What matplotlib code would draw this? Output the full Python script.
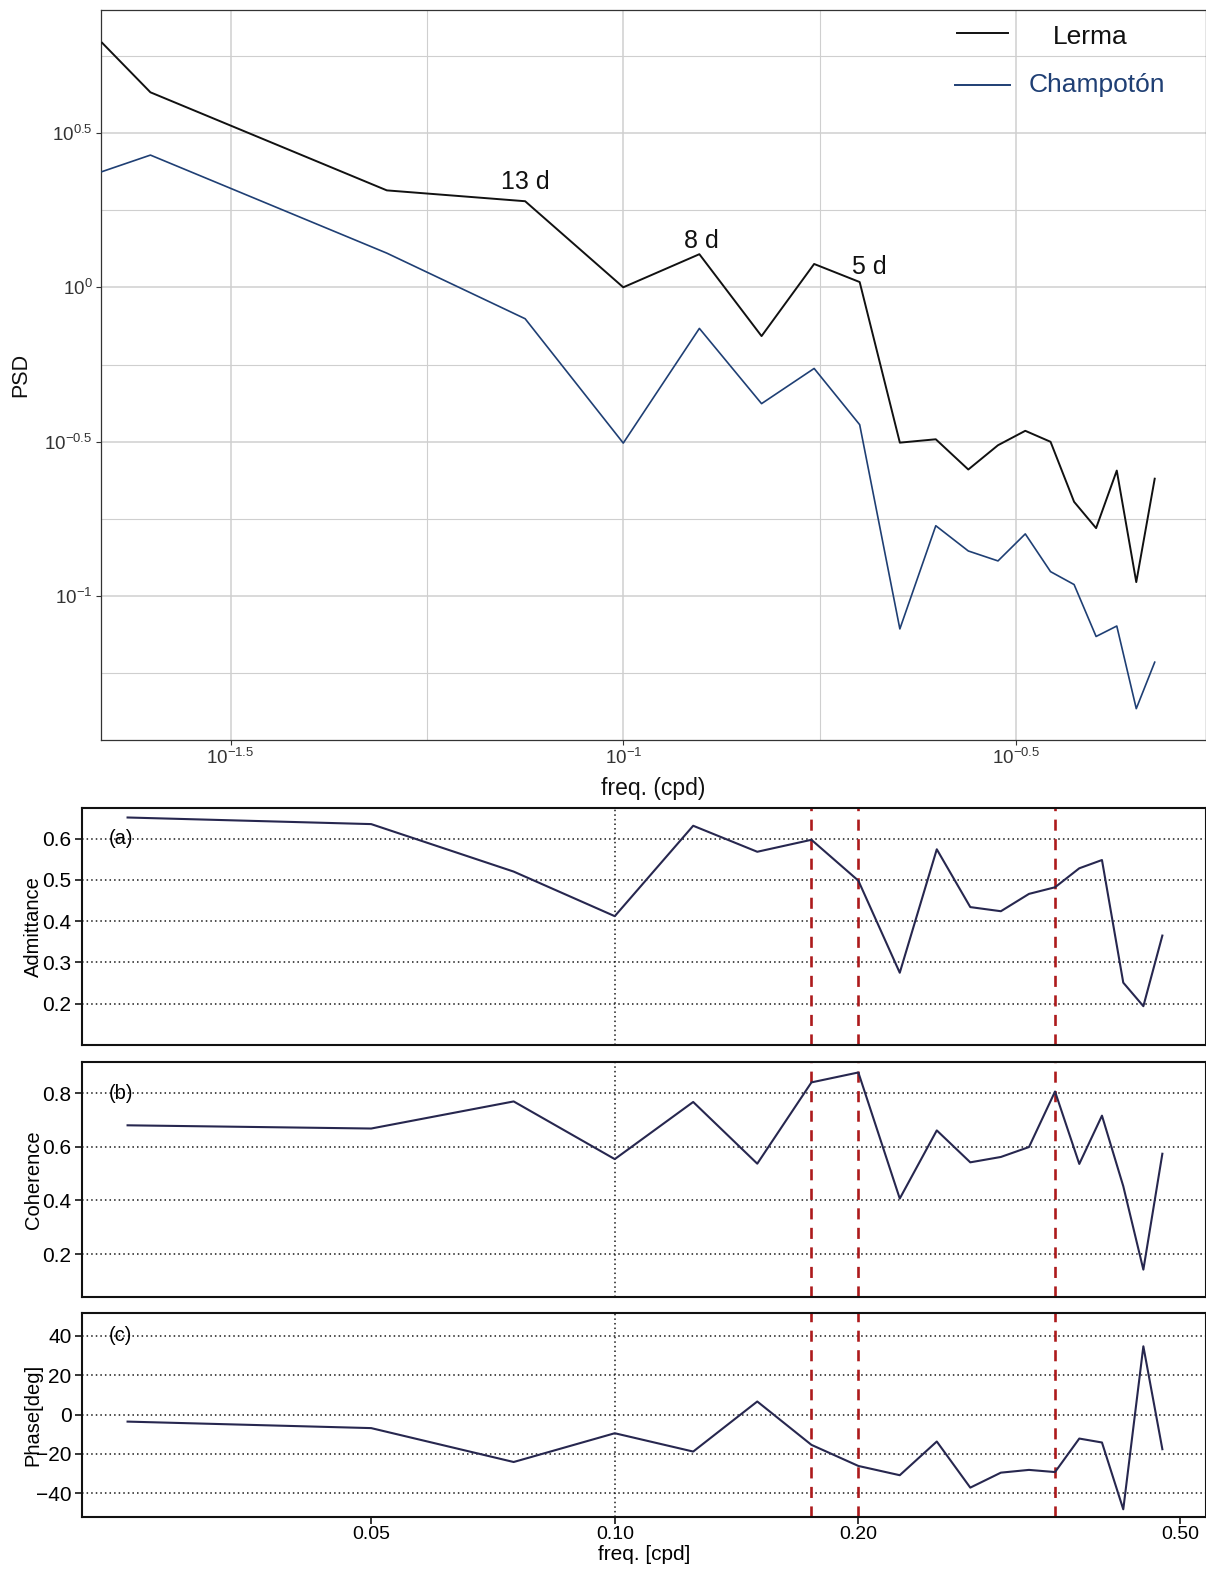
import numpy as np
import matplotlib
matplotlib.use("Agg")
import matplotlib.pyplot as plt
from matplotlib.ticker import FixedLocator, FixedFormatter, NullLocator, NullFormatter
from matplotlib.lines import Line2D

plt.rcParams['font.family'] = ['Liberation Sans', 'DejaVu Sans']
plt.rcParams['mathtext.default'] = 'regular'

# ---- power spectra (cpd, PSD) ----
psd_freq = [0.0217, 0.025, 0.05, 0.075, 0.1, 0.125, 0.15, 0.175, 0.2, 0.225,
            0.25, 0.275, 0.3, 0.325, 0.35, 0.375, 0.4, 0.425, 0.45, 0.475]
psd_lerma = [6.19, 4.28, 2.06, 1.90, 1.00, 1.28, 0.695, 1.19, 1.04, 0.314,
             0.322, 0.257, 0.308, 0.343, 0.316, 0.202, 0.166, 0.255, 0.111, 0.240]
psd_champoton = [2.37, 2.68, 1.29, 0.791, 0.313, 0.736, 0.420, 0.546, 0.359, 0.0783,
                 0.169, 0.140, 0.130, 0.159, 0.120, 0.109, 0.0740, 0.0800, 0.0432, 0.0611]

peak_freq = [0.075, 0.125, 0.2]
peak_labels = ['13 d', '8 d', '5 d']

# ---- cross-spectral estimates ----
cs_freq = [0.025, 0.05, 0.075, 0.1, 0.125, 0.15, 0.175, 0.2, 0.225, 0.25,
           0.275, 0.3, 0.325, 0.35, 0.375, 0.4, 0.425, 0.45, 0.475]
admittance = [0.651, 0.635, 0.520, 0.412, 0.631, 0.568, 0.597, 0.498, 0.275, 0.574,
              0.434, 0.424, 0.466, 0.482, 0.528, 0.548, 0.251, 0.194, 0.365]
coherence = [0.680, 0.668, 0.769, 0.554, 0.767, 0.537, 0.840, 0.877, 0.407, 0.661,
             0.542, 0.562, 0.599, 0.806, 0.536, 0.716, 0.453, 0.142, 0.574]
phase = [-3.6, -6.9, -24.1, -9.5, -18.8, 6.6, -15.4, -26.1, -30.8, -13.7,
         -37.1, -29.5, -28.1, -29.2, -12.2, -14.2, -48.1, 34.6, -17.6]

marked_freq = [0.175, 0.2, 0.35]

W, H = 1206, 1570
fig = plt.figure(figsize=(W / 100, H / 100), dpi=100)


def frac(x0, y0, x1, y1):
    return [x0 / W, 1 - y1 / H, (x1 - x0) / W, (y1 - y0) / H]


# ================= PSD panel =================
ax = fig.add_axes(frac(101, 10, 1206, 740))
ax.set_xscale('log')
ax.set_yscale('log')
ax.set_xlim(10 ** -1.665, 10 ** -0.258)
ax.set_ylim(10 ** -1.466, 10 ** 0.898)

grid_c = '#cfcfcf'
xmaj = [-1.5, -1.0, -0.5]
xmin = [-1.25, -0.75]
ymaj = [-1.0, -0.5, 0.0, 0.5]
ymin = [-1.25, -0.75, -0.25, 0.25, 0.75]
for v in xmaj:
    ax.axvline(10 ** v, color=grid_c, lw=1.1, zorder=0)
for v in xmin:
    ax.axvline(10 ** v, color=grid_c, lw=0.8, zorder=0)
for v in ymaj:
    ax.axhline(10 ** v, color=grid_c, lw=1.1, zorder=0)
for v in ymin:
    ax.axhline(10 ** v, color=grid_c, lw=0.8, zorder=0)


def pow_label(v):
    s = ('%g' % v).replace('-', '\u2212')
    return r'$10^{%s}$' % s


ax.xaxis.set_major_locator(FixedLocator([10 ** v for v in xmaj]))
ax.xaxis.set_major_formatter(FixedFormatter([pow_label(v) for v in xmaj]))
ax.yaxis.set_major_locator(FixedLocator([10 ** v for v in ymaj]))
ax.yaxis.set_major_formatter(FixedFormatter([pow_label(v) for v in ymaj]))
ax.xaxis.set_minor_locator(NullLocator())
ax.yaxis.set_minor_locator(NullLocator())
ax.tick_params(axis='both', which='major', length=3.5, width=0.8, color='#333333',
               labelsize=13.5, labelcolor='#333333', pad=2.5)
for sp in ax.spines.values():
    sp.set_color('#333333')
    sp.set_linewidth(0.9)

c_lerma = '#111111'
c_champ = '#1f3f74'
ax.plot(psd_freq, psd_lerma, color=c_lerma, lw=1.4, zorder=3)
ax.plot(psd_freq, psd_champoton, color=c_champ, lw=1.2, zorder=3)

offsets = [(0, 19), (2, 13), (10, 15)]
for f, lab, off in zip(peak_freq, peak_labels, offsets):
    yv = psd_lerma[psd_freq.index(f)]
    ax.annotate(lab, xy=(f, yv), xytext=off, textcoords='offset pixels',
                ha='center', va='center', fontsize=18, color='#111111')

ax.set_xlabel('freq. (cpd)', fontsize=16.5, color='#111111')
ax.xaxis.set_label_coords(0.5, -0.051)
ax.set_ylabel('PSD', fontsize=15.5, color='#111111')
ax.yaxis.set_label_coords(-0.063, 0.5)

# legend keys drawn in axes coordinates
ax.add_line(Line2D([0.7747, 0.8208], [0.9685, 0.9685], transform=ax.transAxes,
                   color=c_lerma, lw=1.4))
ax.add_line(Line2D([0.7729, 0.8226], [0.8973, 0.8973], transform=ax.transAxes,
                   color=c_champ, lw=1.4))
ax.text(0.895, 0.963, 'Lerma', transform=ax.transAxes, ha='center', va='center',
        fontsize=19, color='#111111')
ax.text(0.9014, 0.8973, 'Champotón', transform=ax.transAxes, ha='center', va='center',
        fontsize=19, color=c_champ)

# ================= cross-spectral panels =================
c_line = '#27274f'
c_mark = '#ad1a1c'
panels = [
    (808, 1045, admittance, (0.100, 0.674), [0.2, 0.3, 0.4, 0.5, 0.6],
     ['0.2', '0.3', '0.4', '0.5', '0.6'], 'Admittance', '(a)', 0.6),
    (1062, 1297, coherence, (0.040, 0.916), [0.2, 0.4, 0.6, 0.8],
     ['0.2', '0.4', '0.6', '0.8'], 'Coherence', '(b)', 0.8),
    (1313, 1517, phase, (-52.0, 51.5), [-40, -20, 0, 20, 40],
     ['\u221240', '\u221220', '0', '20', '40'], 'Phase[deg]', '(c)', 40),
]

xticks = [0.05, 0.10, 0.20, 0.50]
for i, (y0, y1, vals, ylim, yt, ytl, ylab, tag, tagy) in enumerate(panels):
    a = fig.add_axes(frac(82, y0, 1206, y1))
    a.set_xscale('log')
    a.set_xlim(0.02196, 0.5378)
    a.set_ylim(*ylim)
    for v in yt:
        a.axhline(v, color='#1a1a1a', lw=1.1, ls=(0, (1, 2.0)), zorder=1)
    a.axvline(0.10, color='#1a1a1a', lw=1.1, ls=(0, (1, 2.0)), zorder=1)
    for f in marked_freq:
        a.axvline(f, color=c_mark, lw=1.9, ls=(0, (4.2, 3.2)), zorder=2)
    a.plot(cs_freq, vals, color=c_line, lw=1.5, zorder=3)
    a.yaxis.set_major_locator(FixedLocator(yt))
    a.yaxis.set_major_formatter(FixedFormatter(ytl))
    a.xaxis.set_minor_locator(NullLocator())
    a.xaxis.set_minor_formatter(NullFormatter())
    if i == 2:
        a.xaxis.set_major_locator(FixedLocator(xticks))
        a.xaxis.set_major_formatter(FixedFormatter(['%.2f' % v for v in xticks]))
        a.tick_params(axis='x', length=5, width=1.1, labelsize=14, pad=1.5)
        a.set_xlabel('freq. [cpd]', fontsize=15)
        a.xaxis.set_label_coords(0.5, -0.135)
    else:
        a.xaxis.set_major_locator(NullLocator())
    a.tick_params(axis='y', length=5, width=1.1, labelsize=15, pad=2.5)
    for sp in a.spines.values():
        sp.set_linewidth(1.5)
        sp.set_color('#111111')
    a.text(-0.0435, 0.5, ylab, transform=a.transAxes, rotation=90,
           ha='center', va='center', fontsize=14.5)
    a.text(0.024, tagy, tag, transform=a.get_yaxis_transform(),
           ha='left', va='center', fontsize=14.5)

fig.savefig('out.png', dpi=100)
